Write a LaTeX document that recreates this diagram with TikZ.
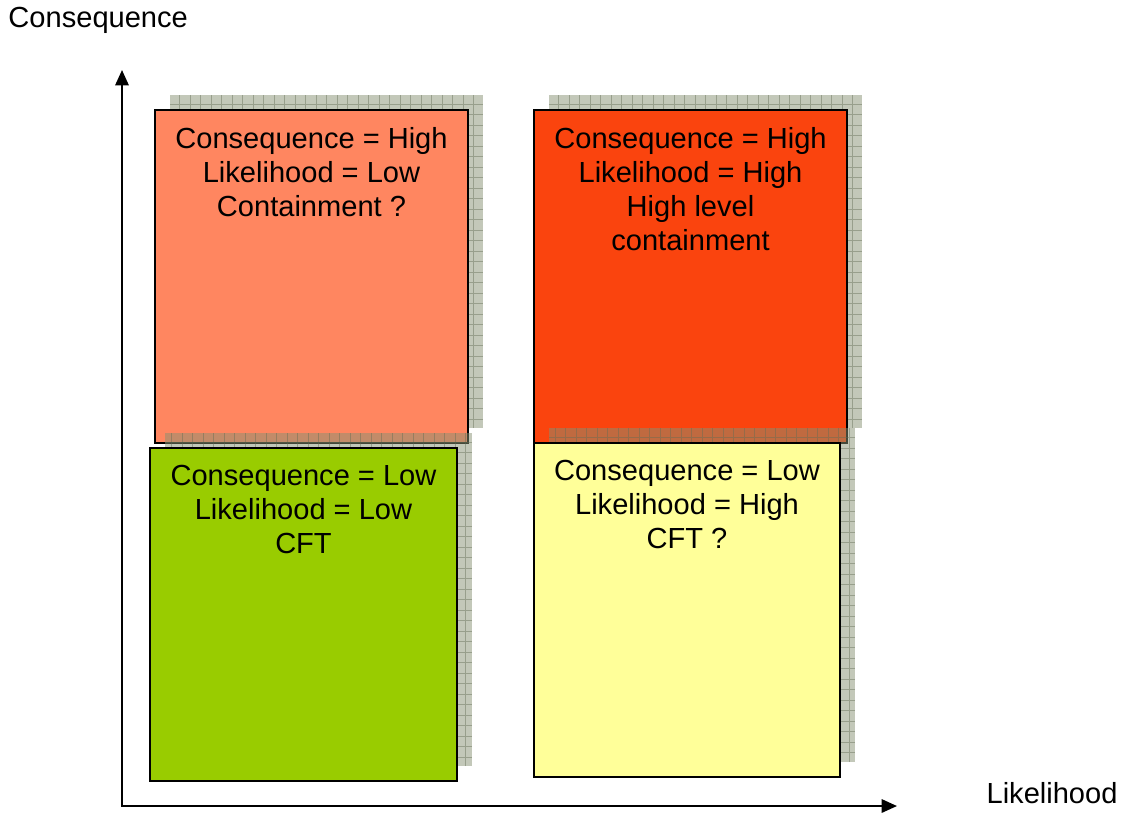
\documentclass[tikz,border=0pt]{standalone}
\usepackage{fontspec}
\setmainfont{Liberation Sans}
\usetikzlibrary{arrows.meta}

\definecolor{lowhigh}{RGB}{255,134,96}
\definecolor{highhigh}{RGB}{250,68,14}
\definecolor{lowlow}{RGB}{153,204,0}
\definecolor{highlow}{RGB}{255,255,153}
\definecolor{shadefill}{RGB}{135,145,115}
\definecolor{shadeline}{RGB}{100,110,85}

\tikzset{every picture/.style={line width=0.75pt}}

\begin{document}
\begin{tikzpicture}[x=0.75pt,y=0.75pt,yscale=-1,xscale=1,
  quad/.style={draw=black, line width=1.2pt, inner sep=0pt, outer sep=0pt},
  shadebox/.style={fill=shadefill, fill opacity=0.5, inner sep=0pt, outer sep=0pt,
    path picture={\draw[shadeline, draw opacity=0.45, line width=0.4pt]
      (path picture bounding box.south west) grid[step=10.5] (path picture bounding box.north east);}},
  quadtext/.style={anchor=north, align=center, inner sep=0pt, font=\fontsize{21.8}{25.5}\selectfont},
  axislabel/.style={inner sep=0pt, font=\fontsize{21.8}{25.5}\selectfont},
  axis/.style={line width=1.5pt, {Triangle[length=11.5pt,width=10pt]}-{Triangle[length=11.5pt,width=10pt]}}]

\useasboundingbox (0,0) rectangle (1123,815);

%Shape: Shadows of the upper row
\node[shadebox, minimum width=234.75pt, minimum height=249.75pt] (hlshade) at (326.5,261.5) {};
\node[shadebox, minimum width=234.75pt, minimum height=249.75pt] (hhshade) at (705.5,261.5) {};

%Shape: Upper row
\node[quad, fill=lowhigh, minimum width=234.75pt, minimum height=249.75pt] (hl) at ([shift={(-15,15)}]hlshade.center) {};
\node[quad, fill=highhigh, minimum width=234.75pt, minimum height=249.75pt] (hh) at ([shift={(-15,15)}]hhshade.center) {};

%Shape: Shadows of the lower row
\node[shadebox, minimum width=230.25pt, minimum height=249.75pt] (llshade) at (318.5,599.5) {};
\node[shadebox, minimum width=229.5pt, minimum height=250.5pt] (lhshade) at (702,595) {};

%Shape: Lower row
\node[quad, fill=lowlow, minimum width=230.25pt, minimum height=249.75pt] (ll) at ([shift={(-15,15)}]llshade.center) {};
\node[quad, fill=highlow, minimum width=229.5pt, minimum height=250.5pt] (lh) at ([shift={(-15,15)}]lhshade.center) {};

% Text Node
\node[quadtext] (hltext) at ([shift={(0,17)}]hl.north) {Consequence = High\\Likelihood = Low\\Containment ?};
% Text Node
\node[quadtext] (hhtext) at ([shift={(0,17)}]hh.north) {Consequence = High\\Likelihood = High\\High level\\containment};
% Text Node
\node[quadtext] (lltext) at ([shift={(0,17)}]ll.north) {Consequence = Low\\Likelihood = Low\\CFT};
% Text Node
\node[quadtext] (lhtext) at ([shift={(0,17)}]lh.north) {Consequence = Low\\Likelihood = High\\CFT ?};

%Shape: Axis 2D
\coordinate (ytip) at (122,70);
\coordinate (xtip) at (897,806);
\draw[axis] (ytip) |- (xtip);

% Text Node
\node[axislabel, anchor=west] (conslabel) at (8,20) {Consequence};
% Text Node
\node[axislabel, anchor=east] (likelabel) at (1118,793) {Likelihood};

\end{tikzpicture}
\end{document}
